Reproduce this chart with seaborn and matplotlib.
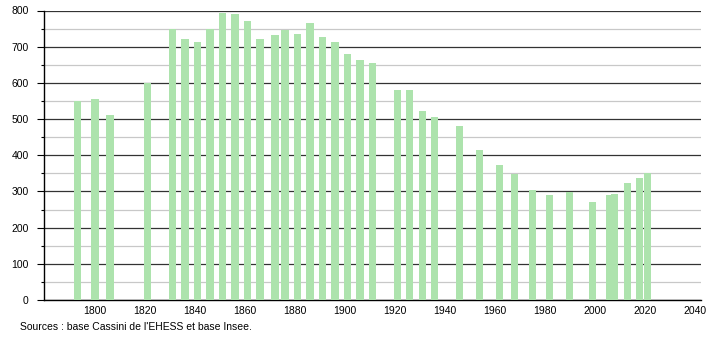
import matplotlib
matplotlib.use("Agg")
import matplotlib.pyplot as plt
import seaborn as sns
import pandas as pd
from matplotlib.ticker import MultipleLocator

years = [1793, 1800, 1806, 1821, 1831, 1836, 1841, 1846, 1851, 1856,
         1861, 1866, 1872, 1876, 1881, 1886, 1891, 1896, 1901, 1906,
         1911, 1921, 1926, 1931, 1936, 1946, 1954, 1962, 1968, 1975,
         1982, 1990, 1999, 2006, 2008, 2013, 2018, 2021]
population = [549, 556, 512, 600, 749, 722, 714, 749, 793, 789,
              772, 721, 731, 745, 734, 766, 726, 712, 681, 662,
              655, 581, 579, 523, 507, 482, 415, 374, 349, 304,
              291, 298, 271, 289, 293, 323, 337, 351]
x_ticks = [1800, 1820, 1840, 1860, 1880, 1900, 1920, 1940, 1960, 1980, 2000, 2020, 2040]
source_text = "Sources : base Cassini de l'EHESS et base Insee."

df = pd.DataFrame({"year": years, "pop": population})

sns.set_style("white")
plt.rcParams['font.family'] = ['Liberation Sans', 'DejaVu Sans']

fig = plt.figure(figsize=(7.1, 3.4), dpi=100)
ax = fig.add_axes([44/710, 40/340, (701-44)/710, (300-10.5)/340])

sns.barplot(data=df, x="year", y="pop", native_scale=True, width=1.45,
            color="#ade3ad", saturation=1, edgecolor="none", linewidth=0,
            ax=ax, zorder=3)

ax.set_xlim(1779.6, 2042.5)
ax.set_ylim(0, 800)
ax.set_xticks(x_ticks)
ax.set_xticklabels([str(t) for t in x_ticks])
ax.yaxis.set_major_locator(MultipleLocator(100))
ax.yaxis.set_minor_locator(MultipleLocator(50))
ax.grid(which="major", axis="y", color="#333333", linewidth=0.9, zorder=1)
ax.grid(which="minor", axis="y", color="#c8c8c8", linewidth=0.9, zorder=1)
ax.set_axisbelow(True)
ax.set_xlabel("")
ax.set_ylabel("")

for s in ["top", "right"]:
    ax.spines[s].set_visible(False)
for s in ["left", "bottom"]:
    ax.spines[s].set_color("black")
    ax.spines[s].set_linewidth(1)

ax.tick_params(axis="x", which="both", length=0, labelsize=7.5, pad=4, colors="black")
ax.tick_params(axis="y", which="major", left=True, length=5, width=0.8, labelsize=7.5, pad=6, colors="black")
ax.tick_params(axis="y", which="minor", left=True, length=2.5, width=0.8, colors="black")

fig.text(20/710, 1 - 327/340, source_text, fontsize=7.5, va="center", ha="left", color="black")

fig.savefig("out.png", dpi=100)
